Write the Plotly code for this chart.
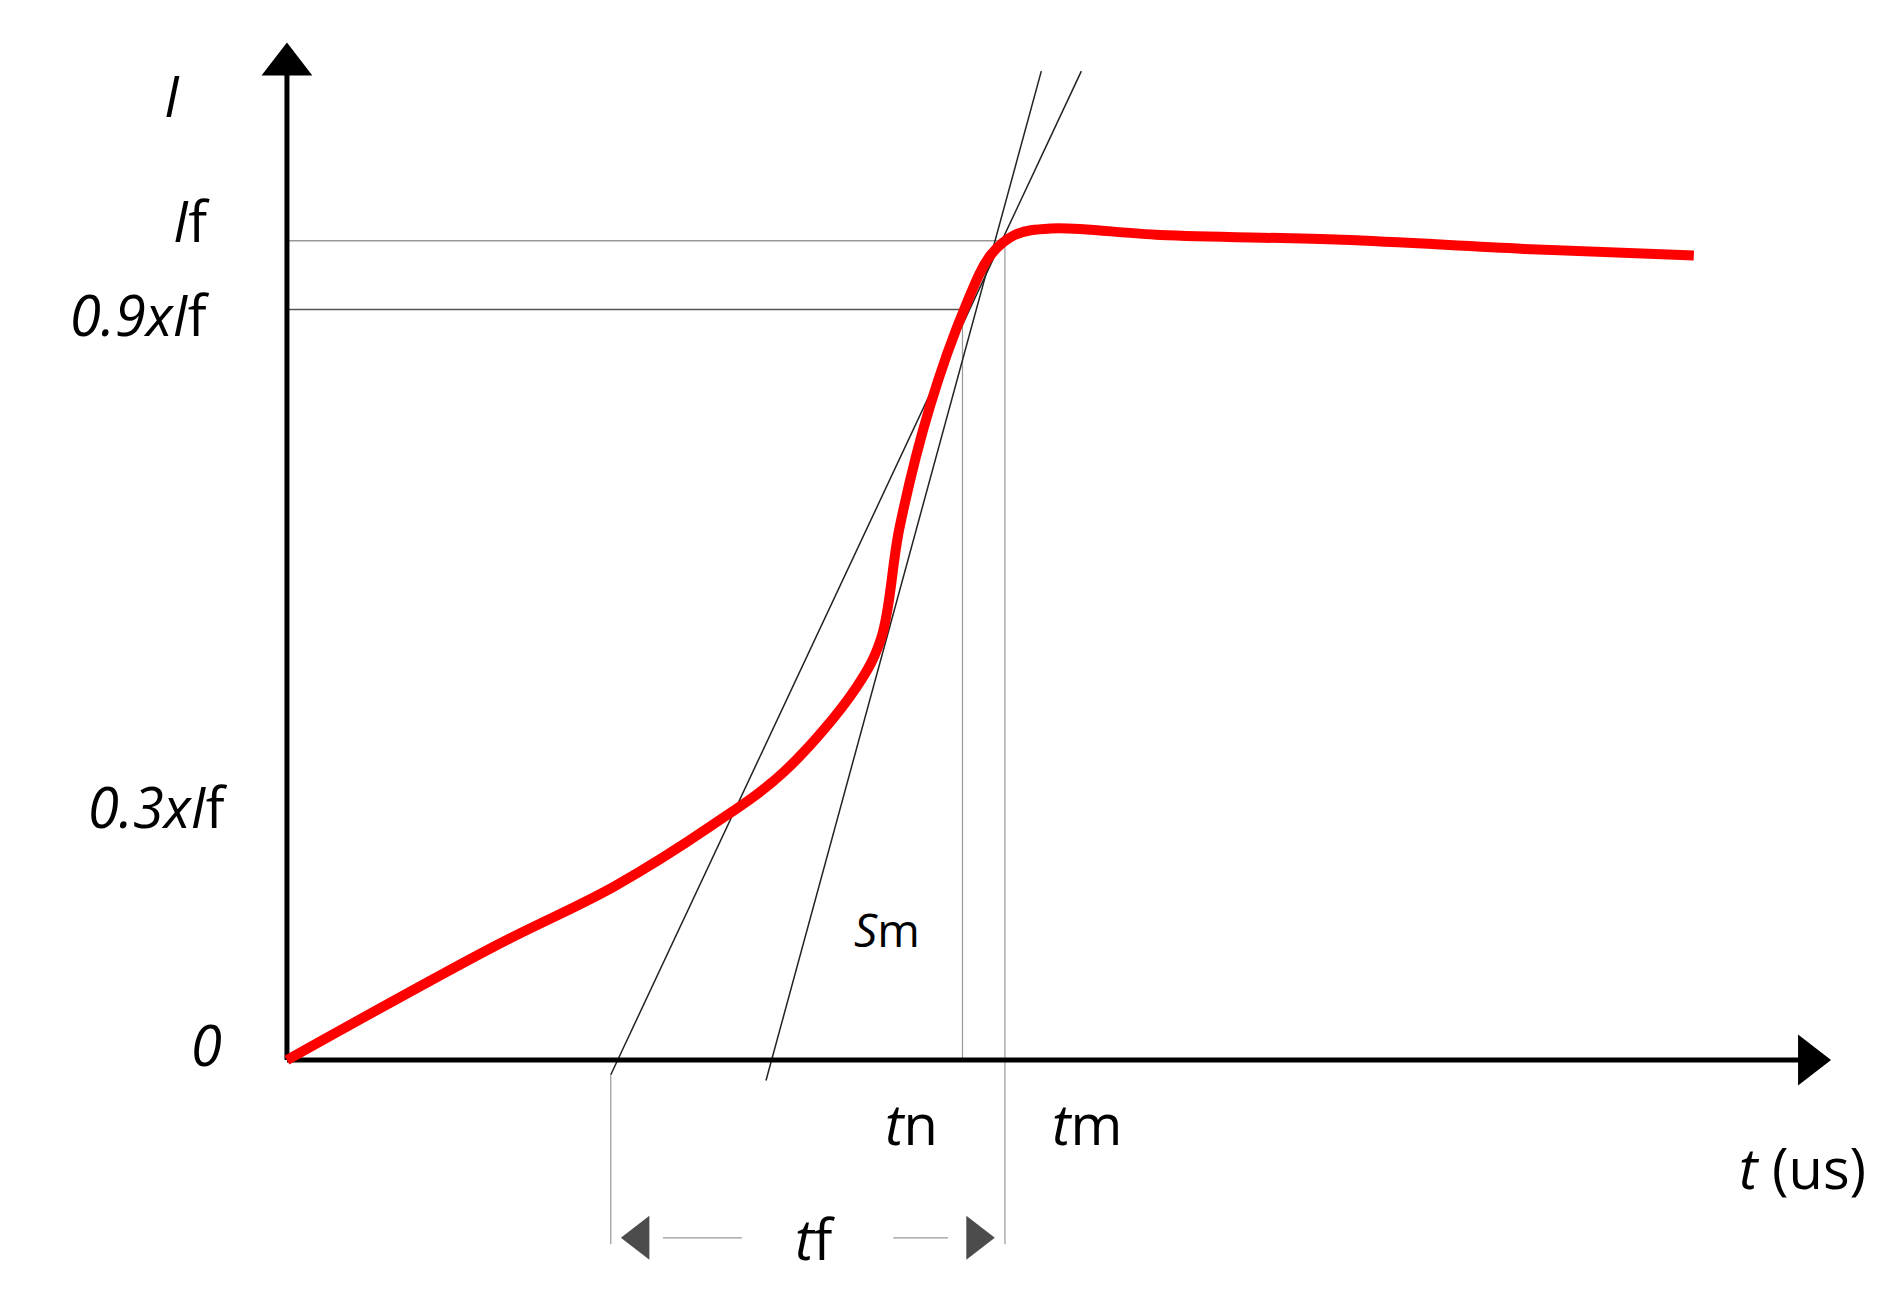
import plotly.graph_objects as go

# red measured current (t units, I normalised to If)
curve_t = [0, 1.7, 2.7, 3.5, 4.1, 4.7, 4.9, 5.05, 5.3, 5.6, 5.8, 6.0, 6.3, 7.2, 8.7, 10.2, 11.6]
curve_i = [0, 0.138, 0.212, 0.286, 0.352, 0.456, 0.515, 0.649, 0.797, 0.922, 0.982, 1.007, 1.015, 1.007, 1.001, 0.990, 0.982]
tanA_t = [2.67, 6.55]; tanA_i = [-0.018, 1.207]
tanB_t = [3.95, 6.22]; tanB_i = [-0.025, 1.207]
t_n, t_m, t_start = 5.57, 5.92, 2.67
lvl_if, lvl_09 = 1.0, 0.916
y_tf = -0.217

fig = go.Figure()
def line(x, y, color="black", w=1.5, shape="linear"):
    fig.add_trace(go.Scatter(x=x, y=y, mode="lines", line=dict(color=color, width=w, shape=shape), hoverinfo="skip"))

# guide lines
line([0, t_m], [lvl_if, lvl_if], "#999999", 1.5)
line([0, t_n], [lvl_09, lvl_09], "#555555", 1.5)
line([t_n, t_n], [0, lvl_09], "#999999", 1.2)
line([t_m, t_m], [-0.225, lvl_if], "#999999", 1.2)
line([t_start, t_start], [-0.018, -0.225], "#999999", 1.2)
line([3.1, 3.75], [y_tf, y_tf], "#999999", 1.2)
line([5.0, 5.45], [y_tf, y_tf], "#999999", 1.2)
# tangents
line(tanA_t, tanA_i, "#222222", 1.5)
line(tanB_t, tanB_i, "#222222", 1.5)
# axes
line([0, 0], [0, 1.225], "black", 5)
line([0, 12.5], [0, 0], "black", 5)
mk = dict(color="black", line=dict(width=0))
fig.add_trace(go.Scatter(x=[0], y=[1.215], mode="markers", marker=dict(symbol="triangle-up", size=44, **mk)))
fig.add_trace(go.Scatter(x=[12.55], y=[0], mode="markers", marker=dict(symbol="triangle-right", size=44, **mk)))
fig.add_trace(go.Scatter(x=[t_start + 0.24, t_m - 0.24], y=[y_tf, y_tf], mode="markers",
                         marker=dict(symbol=["triangle-left", "triangle-right"], size=[38, 38], **mk)))
# red curve
line(curve_t, curve_i, "red", 10, "spline")

F = "Open Sans"
def txt(x, y, s, size=56, xanchor="center"):
    fig.add_annotation(x=x, y=y, text=s, showarrow=False, xanchor=xanchor, yanchor="middle",
                       font=dict(family=F, size=size, color="black"))
txt(-0.95, 1.178, "<i>I</i>")
txt(-0.62, 1.025, "<i>I</i>f", xanchor="right")
txt(-0.62, 0.91, "<i>0.9xI</i>f", xanchor="right")
txt(-0.47, 0.31, "<i>0.3xI</i>f", xanchor="right")
txt(-0.52, 0.02, "<i>0</i>", xanchor="right")
txt(5.15, -0.077, "<i>t</i>n")
txt(6.6, -0.077, "<i>t</i>m")
txt(12.5, -0.13, "<i>t</i> (us)")
txt(4.35, -0.217, "<i>t</i>f")
txt(4.95, 0.16, "<i>S</i>m", size=46)

fig.update_layout(width=1892, height=1297, margin=dict(l=0, r=0, t=0, b=0),
                  plot_bgcolor="white", paper_bgcolor="white", showlegend=False,
                  xaxis=dict(range=[-2.3, 13.3], visible=False),
                  yaxis=dict(range=[-0.299, 1.284], visible=False))
fig.write_html("out.html")
